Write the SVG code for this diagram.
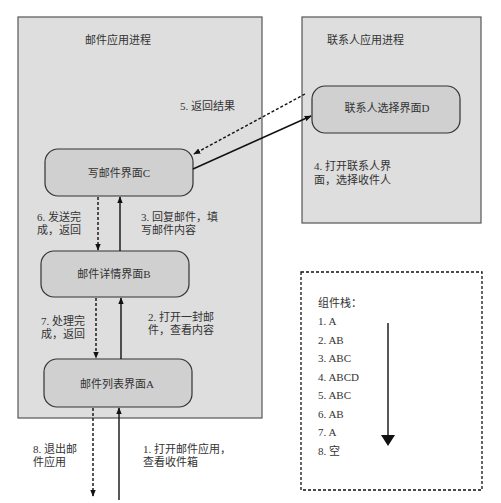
<svg xmlns="http://www.w3.org/2000/svg" width="501" height="503" viewBox="0 0 501 503">
<style>
.proc{fill:#dedede;stroke:#555;stroke-width:1.2}
.node{fill:#d0d0d0;stroke:#333;stroke-width:1.2}
.t{font-family:"Liberation Serif","Noto Sans CJK SC",serif;font-size:11px;fill:#333}
.c{text-anchor:middle}
.solid{stroke:#111;stroke-width:1.4;fill:none}
.dash{stroke:#111;stroke-width:1.4;fill:none;stroke-dasharray:3,2}
</style>
<defs>
<marker id="ah" viewBox="0 0 10 10" refX="9" refY="5" markerWidth="7" markerHeight="7" markerUnits="userSpaceOnUse" orient="auto">
<path d="M0,1 L10,5 L0,9 z" fill="#111"/>
</marker>
</defs>
<rect width="501" height="503" fill="#fff"/>
<g id="mail-process">
<rect class="proc" x="18" y="17" width="244" height="401"/>
<text class="t" x="85" y="44">邮件应用进程</text>
</g>
<g id="contacts-process">
<rect class="proc" x="302" y="17" width="179" height="206"/>
<text class="t" x="327" y="44">联系人应用进程</text>
</g>
<g id="nodeC">
<rect class="node" x="45" y="149" width="148" height="47" rx="13"/>
<text class="t c" x="119" y="177">写邮件界面C</text>
</g>
<g id="nodeB">
<rect class="node" x="41" y="251" width="148" height="46" rx="13"/>
<text class="t c" x="114" y="278">邮件详情界面B</text>
</g>
<g id="nodeA">
<rect class="node" x="44" y="359" width="148" height="48" rx="13"/>
<text class="t c" x="117" y="388">邮件列表界面A</text>
</g>
<g id="nodeD">
<rect class="node" x="312" y="86" width="148" height="47" rx="13"/>
<text class="t c" x="387" y="112">联系人选择界面D</text>
</g>
<g id="connectors">
<line class="dash" x1="98" y1="197" x2="98" y2="250" marker-end="url(#ah)"/>
<line class="solid" x1="120" y1="251" x2="120" y2="197" marker-end="url(#ah)"/>
<line class="dash" x1="96" y1="298" x2="96" y2="358" marker-end="url(#ah)"/>
<line class="solid" x1="121" y1="359" x2="121" y2="298" marker-end="url(#ah)"/>
<line class="dash" x1="93" y1="408" x2="93" y2="496" marker-end="url(#ah)"/>
<line class="solid" x1="119" y1="500" x2="119" y2="408" marker-end="url(#ah)"/>
<line class="solid" x1="193" y1="169" x2="311" y2="116" marker-end="url(#ah)"/>
<line class="dash" x1="305" y1="94" x2="194" y2="154" marker-end="url(#ah)"/>
</g>
<g id="labels">
<text class="t" x="180" y="110">5. 返回结果</text>
<text class="t" x="37" y="221">6. 发送完</text>
<text class="t" x="37" y="234">成，返回</text>
<text class="t" x="141" y="221">3. 回复邮件，填</text>
<text class="t" x="141" y="234">写邮件内容</text>
<text class="t" x="41" y="325">7. 处理完</text>
<text class="t" x="41" y="338">成，返回</text>
<text class="t" x="148" y="321">2. 打开一封邮</text>
<text class="t" x="148" y="334">件，查看内容</text>
<text class="t" x="33" y="453">8. 退出邮</text>
<text class="t" x="33" y="466">件应用</text>
<text class="t" x="143" y="453">1. 打开邮件应用，</text>
<text class="t" x="143" y="466">查看收件箱</text>
<text class="t" x="314" y="170">4. 打开联系人界</text>
<text class="t" x="314" y="184">面，选择收件人</text>
</g>
<g id="stack">
<rect x="301" y="272" width="181" height="218" fill="none" stroke="#111" stroke-width="1.3" stroke-dasharray="3,2"/>
<text class="t" x="318" y="307">组件栈：</text>
<text class="t" x="318" y="325">1. A</text>
<text class="t" x="318" y="344">2. AB</text>
<text class="t" x="318" y="362">3. ABC</text>
<text class="t" x="318" y="381">4. ABCD</text>
<text class="t" x="318" y="399">5. ABC</text>
<text class="t" x="318" y="418">6. AB</text>
<text class="t" x="318" y="436">7. A</text>
<text class="t" x="318" y="455">8. 空</text>
<line x1="388" y1="323" x2="388" y2="436" stroke="#111" stroke-width="1.4"/>
<path d="M381,435 L395,435 L388,446 z" fill="#111"/>
</g>
</svg>
